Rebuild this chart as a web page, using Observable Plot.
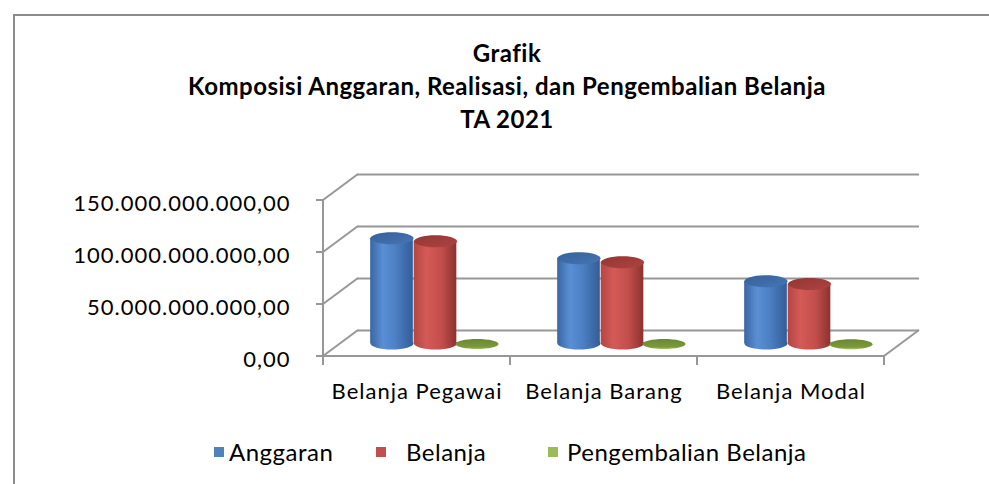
<!DOCTYPE html>
<html>
<head>
<meta charset="utf-8">
<script src="https://cdn.jsdelivr.net/npm/d3@7"></script>
<script src="https://cdn.jsdelivr.net/npm/@observablehq/plot@0.6"></script>
<style>
  html, body { margin: 0; padding: 0; background: #fff; }
  body { width: 989px; height: 484px; position: relative; overflow: hidden; font-family: Lato, "Noto Sans", sans-serif; }
  #border { position: absolute; left: 13px; top: 14px; width: 1100px; height: 600px; border-top: 2px solid #8c8c8c; border-left: 2px solid #8c8c8c; }
  #title { position: absolute; left: 0; top: 36px; width: 1014px; text-align: center; font-weight: bold; font-size: 24px; letter-spacing: 0.5px; line-height: 33px; color: #000; }
  #chart { position: absolute; left: 0; top: 150px; }
  .leg { position: absolute; top: 437px; font-size: 24px; letter-spacing: 0.5px; line-height: 30px; color: #000; white-space: nowrap; }
  .sw { position: absolute; width: 10px; height: 10px; top: 447px; }
  #chart svg text { letter-spacing: 1px; }
</style>
</head>
<body>
<div id="border"></div>
<div id="title"></div>
<div id="chart"></div>
<div id="legend"></div>
<script>
// ---- data ----
const titleLines = ["Grafik", "Komposisi Anggaran, Realisasi, dan Pengembalian Belanja", "TA 2021"];
const categories = ["Belanja Pegawai", "Belanja Barang", "Belanja Modal"];
const anggaran = [101.2e9, 81.9e9, 59.8e9];
const belanja = [98.4e9, 78.2e9, 57.1e9];
const pengembalian = [0.4e9, 0.5e9, 0.3e9];
const seriesNames = ["Anggaran", "Belanja", "Pengembalian Belanja"];
const seriesColors = ["#4f81bd", "#c0504d", "#9bbb59"];
const yTicks = [0, 50e9, 100e9, 150e9];

// ---- table ----
const data = categories.map((c, i) => ({cat: c, anggaran: anggaran[i], belanja: belanja[i], pengembalian: pengembalian[i]}));

// ---- layout / style constants ----
const W = 989, H = 280, ML = 322, MR = 105, MT = 50, MB = 74;
const BW = (W - ML - MR) / categories.length;
const DEPTH_DX = 35, DEPTH_DY = -26;     // 3D wall depth
const BAR_DY = -13;                      // bars sit at mid depth
const BAR_W = 43;
const OFF = [-25, 18.5, 60];             // horizontal offsets of the three series inside a band
const INSET = (BW - BAR_W) / 2;
const GRID = "#979797";

const fmt = d3.formatLocale({decimal: ",", thousands: ".", grouping: [3], currency: ["Rp", ""]}).format(",.2f");

function ellipseSymbol(rx, ry) {
  const k = 0.5523;
  return {draw(ctx) {
    ctx.moveTo(-rx, 0);
    ctx.bezierCurveTo(-rx, -ry * k, -rx * k, -ry, 0, -ry);
    ctx.bezierCurveTo(rx * k, -ry, rx, -ry * k, rx, 0);
    ctx.bezierCurveTo(rx, ry * k, rx * k, ry, 0, ry);
    ctx.bezierCurveTo(-rx * k, ry, -rx, ry * k, -rx, 0);
    ctx.closePath();
  }};
}
const capShape = ellipseSymbol(BAR_W / 2, 6);
const diskShape = ellipseSymbol(21.5, 5);

function cylinder(key, off, body, cap) {
  return [
    Plot.dot(data, {x: "cat", y: () => 0, dx: off, dy: BAR_DY, symbol: capShape, fill: body}),
    Plot.barY(data, {x: "cat", y: key, dx: off, dy: BAR_DY, insetLeft: INSET, insetRight: INSET, fill: body}),
    Plot.dot(data, {x: "cat", y: key, dx: off, dy: BAR_DY, symbol: capShape, fill: cap})
  ];
}

const svg = Plot.plot({
  width: W, height: H,
  marginLeft: ML, marginRight: MR, marginTop: MT, marginBottom: MB,
  style: {fontFamily: "Lato, 'Noto Sans', sans-serif", fontSize: "22px", color: "#000", background: "transparent", overflow: "visible"},
  x: {domain: categories, padding: 0, label: null},
  y: {domain: [0, 150e9], label: null},
  marks: [
    Plot.ruleY(yTicks, {y: d => d, dx: DEPTH_DX, dy: DEPTH_DY, stroke: GRID, strokeWidth: 2}),
    Plot.axisY({ticks: yTicks, tickFormat: fmt, tickSize: 0, tickPadding: 32, dy: 3, label: null}),
    Plot.axisX({tickSize: 0, tickPadding: 27, label: null}),
    ...cylinder("anggaran", OFF[0], "url(#bodyBlue)", "url(#capBlue)"),
    ...cylinder("belanja", OFF[1], "url(#bodyRed)", "url(#capRed)"),
    Plot.dot(data, {x: "cat", y: "pengembalian", dx: OFF[2], dy: BAR_DY + 1, symbol: diskShape, fill: "url(#diskGreen)"})
  ]
});

// gradients
const root = d3.select(svg);
const defs = root.insert("defs", ":first-child");
function grad(id, stops, x2, y2) {
  const g = defs.append("linearGradient").attr("id", id).attr("x1", 0).attr("y1", 0).attr("x2", x2).attr("y2", y2);
  stops.forEach(([o, c]) => g.append("stop").attr("offset", o).attr("stop-color", c));
}
grad("bodyBlue", [[0, "#3a66a2"], [0.3, "#5a8fd5"], [0.6, "#4c7fc3"], [1, "#335d98"]], 1, 0);
grad("capBlue", [[0, "#36609a"], [1, "#4676b5"]], 1, 1);
grad("bodyRed", [[0, "#b44643"], [0.3, "#d45a57"], [0.65, "#c24e4b"], [1, "#8c322f"]], 1, 0);
grad("capRed", [[0, "#933735"], [1, "#ad4340"]], 1, 1);
grad("diskGreen", [[0, "#6a8830"], [0.8, "#7b9a3c"], [1, "#a6c46a"]], 0, 1);

// 3D frame drawn from the plot's own scales
const sx = svg.scale("x"), sy = svg.scale("y");
const x0 = sx.apply(categories[0]);
const x1 = sx.apply(categories[categories.length - 1]) + sx.bandwidth;
const y0 = sy.apply(0), yTop = sy.apply(yTicks[yTicks.length - 1]);
const frame = root.insert("g", "defs + *").attr("stroke", GRID).attr("stroke-width", 2).attr("fill", "none");
const seg = (a, b, c, d) => frame.append("line").attr("x1", a).attr("y1", b).attr("x2", c).attr("y2", d);
seg(x0, y0 + 1, x0, yTop);
yTicks.forEach(t => {
  const yy = sy.apply(t);
  seg(x0 - 7, yy, x0, yy);
  seg(x0, yy, x0 + DEPTH_DX, yy + DEPTH_DY);
});
seg(x0, y0, x1, y0);
seg(x1, y0, x1 + DEPTH_DX, y0 + DEPTH_DY);
categories.forEach(c => seg(sx.apply(c), y0, sx.apply(c), y0 + 9));
seg(x1, y0, x1, y0 + 9);

document.getElementById("chart").appendChild(svg);

// title
document.getElementById("title").innerHTML = titleLines.map(t => `<div>${t}</div>`).join("");

// legend
const legPos = [[214, 229], [376, 406], [548, 567]];
const leg = document.getElementById("legend");
seriesNames.forEach((n, i) => {
  const sw = document.createElement("div");
  sw.className = "sw"; sw.style.left = legPos[i][0] + "px"; sw.style.background = seriesColors[i];
  const lb = document.createElement("div");
  lb.className = "leg"; lb.style.left = legPos[i][1] + "px"; lb.textContent = n;
  leg.appendChild(sw); leg.appendChild(lb);
});
</script>
</body>
</html>
